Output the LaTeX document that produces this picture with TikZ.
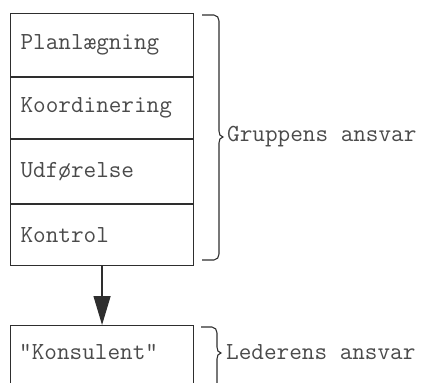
\documentclass[tikz,border=0pt]{standalone}
\usepackage{fontspec}
\usetikzlibrary{arrows.meta}
\definecolor{ink}{HTML}{2E2E2E}
\definecolor{typed}{HTML}{4A4A4A}
\begin{document}
\begin{tikzpicture}[x=1bp,y=-1bp,
  typefont/.style={font=\ttfamily\fontsize{24.5bp}{27bp}\selectfont, text=typed},
  stage/.style={draw=ink, line width=1.1bp, anchor=north west,
    minimum width=183bp, text width=163bp, inner xsep=10bp, inner ysep=0pt,
    align=left, typefont},
  note/.style={anchor=west, inner sep=0pt, typefont},
  flow/.style={draw=ink, line width=1.4bp,
    -{Triangle[length=29bp,width=17bp]}},
  bracket/.style={draw=ink, line width=1.1bp},
]
\useasboundingbox (0,0) rectangle (426,383);
\clip (0,0) rectangle (426,383);

% the group's four stages, stacked
\node[stage, minimum height=63bp] (p1) at (10,13) {Planlægning};
\node[stage, minimum height=61bp] (p2) at (p1.south west) {Koordinering};
\node[stage, minimum height=64bp] (p3) at (p2.south west) {Udførelse};
\node[stage, minimum height=61bp] (p4) at (p3.south west) {Kontrol};

% the leader's box, running past the lower edge
\node[stage, minimum height=70bp] (k) at (10,325) {};
\node[note] (kt) at (19,352) {"Konsulent"};

\draw[flow] (p4.south) -- (k.north);

% brace over the four stages
\draw[bracket] (202,15) -- (214,15) to[out=0,in=90] (219,21) -- (219,131)
  to[out=-90,in=180] (223,137) to[out=180,in=90] (219,143) -- (219,254)
  to[out=-90,in=0] (214,260) -- (202,260);
\node[note] (g) at (227,137) {Gruppens ansvar};

% brace beside the leader's box
\draw[bracket] (201,327) -- (212,327) to[out=0,in=90] (217,333) -- (217,347)
  to[out=-90,in=180] (221,353) to[out=180,in=90] (217,359) -- (217,395);
\node[note] (l) at (226,352) {Lederens ansvar};
\end{tikzpicture}
\end{document}
